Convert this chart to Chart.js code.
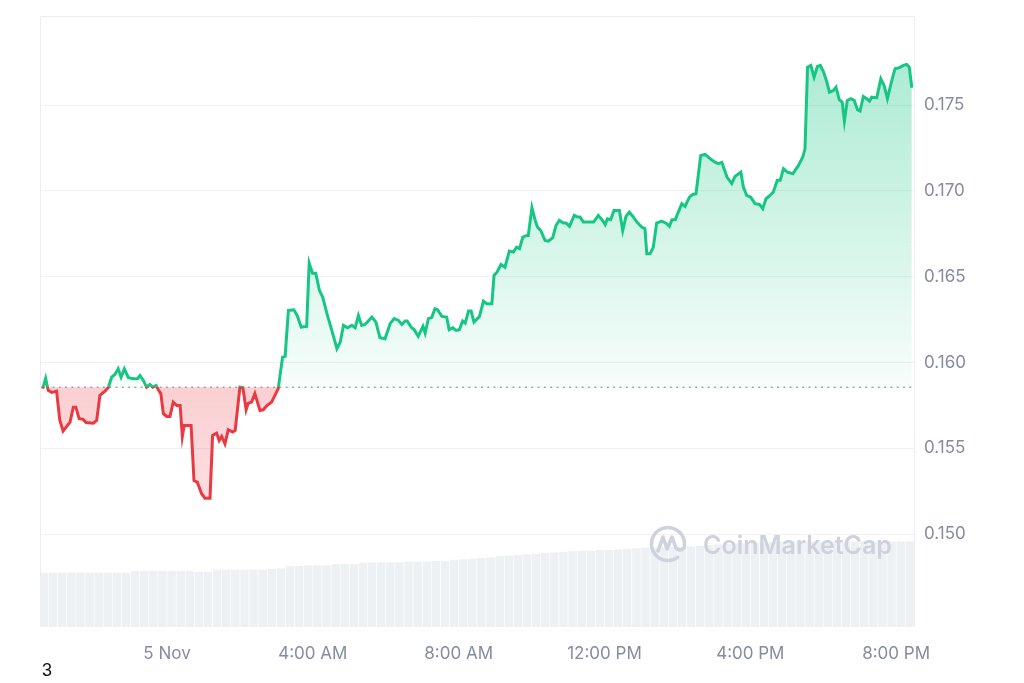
<!DOCTYPE html>
<html>
<head>
<meta charset="utf-8">
<script src="https://cdn.jsdelivr.net/npm/chart.js@4.4.1/dist/chart.umd.min.js"></script>
<style>
  html, body { margin: 0; padding: 0; background: #ffffff; }
  #wrap { position: relative; width: 1024px; height: 683px; }
  #note { position: absolute; left: 42px; top: 660px; font: 18px "Liberation Sans", Arial, sans-serif; color: #111; }
</style>
</head>
<body>
<div id="wrap">
  <canvas id="priceChart" width="1024" height="683"></canvas>
  <div id="note">3</div>
</div>
<script>
// hours relative to 5 Nov 00:00
const priceTimes = [
  -3.41,-3.33,-3.26,-3.16,-3.03,-2.94,-2.85,-2.66,-2.57,-2.50,
  -2.41,-2.30,-2.22,-2.02,-1.93,-1.84,-1.70,-1.61,-1.52,-1.43,
  -1.34,-1.26,-1.17,-1.06,-0.92,-0.81,-0.74,-0.65,-0.56,-0.47,
  -0.39,-0.30,-0.24,-0.17,-0.10,-0.01,0.08,0.17,0.27,0.36,
  0.42,0.47,0.66,0.74,0.83,0.95,1.04,1.18,1.25,1.36,
  1.43,1.50,1.59,1.68,1.80,1.87,2.00,2.08,2.17,2.23,
  2.32,2.41,2.55,2.64,2.74,2.87,3.05,3.17,3.24,3.33,
  3.48,3.57,3.68,3.83,3.90,3.99,4.08,4.18,4.27,4.40,
  4.52,4.66,4.75,4.84,4.95,5.07,5.16,5.25,5.34,5.43,
  5.62,5.73,5.84,5.98,6.12,6.23,6.35,6.44,6.53,6.59,
  6.71,6.78,6.89,7.02,7.08,7.17,7.26,7.35,7.42,7.54,
  7.67,7.74,7.84,7.93,8.02,8.11,8.18,8.27,8.34,8.42,
  8.57,8.68,8.77,8.91,8.97,9.05,9.16,9.27,9.39,9.50,
  9.59,9.67,9.76,9.87,9.91,10.01,10.10,10.16,10.25,10.37,
  10.46,10.58,10.67,10.76,10.87,10.95,11.04,11.17,11.26,11.33,
  11.42,11.70,11.83,11.93,12.02,12.08,12.17,12.26,12.41,12.50,
  12.59,12.68,12.78,12.89,13.02,13.11,13.16,13.25,13.34,13.43,
  13.57,13.71,13.78,13.85,13.94,14.12,14.21,14.33,14.42,14.51,
  14.64,14.76,14.90,15.03,15.12,15.22,15.36,15.49,15.58,15.74,
  15.81,15.90,16.01,16.13,16.25,16.34,16.43,16.54,16.63,16.74,
  16.82,16.91,17.02,17.17,17.32,17.44,17.50,17.57,17.66,17.75,
  17.84,17.92,18.01,18.10,18.17,18.28,18.35,18.44,18.52,18.58,
  18.66,18.76,18.85,18.94,19.01,19.10,19.19,19.27,19.33,19.47,
  19.58,19.67,19.76,19.88,19.97,20.09,20.20,20.29,20.36,20.43
];
const priceValues = [
  0.15847,0.15907,0.15837,0.15825,0.15833,0.15662,0.15600,0.15652,0.15739,0.15739,
  0.15672,0.15668,0.15650,0.15646,0.15662,0.15808,0.15833,0.15854,0.15914,0.15930,
  0.15963,0.15914,0.15963,0.15911,0.15905,0.15905,0.15924,0.15895,0.15856,0.15872,
  0.15856,0.15866,0.15841,0.15818,0.15701,0.15685,0.15685,0.15769,0.15749,0.15749,
  0.15569,0.15633,0.15633,0.15312,0.15302,0.15235,0.15209,0.15209,0.15575,0.15588,
  0.15545,0.15569,0.15526,0.15608,0.15594,0.15604,0.15856,0.15853,0.15724,0.15763,
  0.15769,0.15818,0.15720,0.15724,0.15749,0.15769,0.15847,0.16031,0.16035,0.16303,
  0.16307,0.16274,0.16206,0.16210,0.16579,0.16520,0.16520,0.16420,0.16381,0.16274,
  0.16187,0.16080,0.16118,0.16216,0.16202,0.16216,0.16202,0.16274,0.16216,0.16221,
  0.16264,0.16235,0.16144,0.16138,0.16226,0.16255,0.16245,0.16221,0.16241,0.16241,
  0.16202,0.16191,0.16152,0.16210,0.16171,0.16255,0.16261,0.16313,0.16307,0.16268,
  0.16264,0.16191,0.16202,0.16187,0.16191,0.16241,0.16229,0.16299,0.16299,0.16235,
  0.16268,0.16357,0.16342,0.16342,0.16507,0.16526,0.16571,0.16555,0.16649,0.16643,
  0.16672,0.16663,0.16730,0.16740,0.16740,0.16902,0.16828,0.16789,0.16769,0.16711,
  0.16707,0.16727,0.16798,0.16828,0.16812,0.16812,0.16793,0.16857,0.16847,0.16847,
  0.16818,0.16818,0.16857,0.16832,0.16804,0.16837,0.16832,0.16886,0.16886,0.16769,
  0.16851,0.16876,0.16851,0.16818,0.16789,0.16779,0.16634,0.16634,0.16672,0.16812,
  0.16823,0.16808,0.16793,0.16832,0.16832,0.16925,0.16909,0.16963,0.16979,0.16983,
  0.17206,0.17212,0.17187,0.17167,0.17158,0.17166,0.17080,0.17042,0.17084,0.17109,
  0.17022,0.16973,0.16963,0.16925,0.16921,0.16896,0.16954,0.16973,0.16993,0.17061,
  0.17061,0.17129,0.17109,0.17100,0.17148,0.17197,0.17245,0.17721,0.17731,0.17663,
  0.17725,0.17731,0.17692,0.17634,0.17575,0.17585,0.17604,0.17531,0.17517,0.17406,
  0.17527,0.17537,0.17527,0.17473,0.17465,0.17550,0.17537,0.17523,0.17546,0.17543,
  0.17653,0.17614,0.17537,0.17643,0.17712,0.17718,0.17731,0.17737,0.17721,0.17601
];
const openPrice = 0.15855;

// volume bars every 15 minutes, first bar at 20:37 on 4 Nov
const volumeStart = -3.375;
const volumeStep = 0.25;
const volumeValues = [
  8.9,8.9,8.9,8.9,8.9,8.9,8.9,8.9,8.9,8.9,
  9.2,9.2,9.2,9.2,9.2,9.2,9.2,9.05,9.05,
  9.4,9.4,9.4,9.4,9.4,9.4,9.5,9.6,
  10.0,10.0,10.1,10.1,10.1,10.3,10.3,10.3,10.5,
  10.6,10.6,10.6,10.6,10.7,10.7,10.7,10.8,10.8,
  11.0,11.1,11.2,11.3,11.4,11.6,11.7,11.8,11.9,12.0,
  12.1,12.2,12.3,12.4,12.5,12.5,12.6,12.6,12.7,12.8,
  12.9,13.0,13.0,13.1,13.1,13.1,13.2,13.3,13.4,13.5,
  13.6,13.7,13.7,13.8,13.8,13.9,
  14.0,14.0,14.0,14.0,14.0,14.0,14.0,14.0,14.0,14.0,14.0,14.0,14.0,14.0,14.0
];

const timeRange = [-3.484, 20.49];
const timeTickValues = [0, 4, 8, 12, 16, 20];
const timeTickLabels = ['5 Nov', '4:00 AM', '8:00 AM', '12:00 PM', '4:00 PM', '8:00 PM'];
const priceRange = [0.14458, 0.18019];
const priceTickValues = [0.150, 0.155, 0.160, 0.165, 0.170, 0.175];

const green = '#16c784';
const red = '#ea3943';
const labelColor = '#858ca2';

function baseFraction(chart) {
  const area = chart.chartArea;
  const yb = chart.scales.y.getPixelForValue(openPrice);
  return Math.min(1, Math.max(0, (yb - area.top) / (area.bottom - area.top)));
}

function lineColor(context) {
  const chart = context.chart;
  const area = chart.chartArea;
  if (!area) return green;
  const f = baseFraction(chart);
  const g = chart.ctx.createLinearGradient(0, area.top, 0, area.bottom);
  g.addColorStop(0, green);
  g.addColorStop(f, green);
  g.addColorStop(f, red);
  g.addColorStop(1, red);
  return g;
}

function areaColor(context) {
  const chart = context.chart;
  const area = chart.chartArea;
  if (!area) return 'rgba(22,199,132,0.2)';
  const f = baseFraction(chart);
  const g = chart.ctx.createLinearGradient(0, area.top, 0, area.bottom);
  g.addColorStop(0, 'rgba(22,199,132,0.40)');
  g.addColorStop(f, 'rgba(22,199,132,0.03)');
  g.addColorStop(f, 'rgba(234,57,67,0.24)');
  g.addColorStop(1, 'rgba(234,57,67,0.08)');
  return g;
}

const pricePoints = priceTimes.map((t, i) => ({ x: t, y: priceValues[i] }));
const volumePoints = volumeValues.map((v, i) => ({ x: volumeStart + i * volumeStep, y: v }));

const frame = {
  id: 'frame',
  afterDraw(chart) {
    const { ctx, chartArea } = chart;
    ctx.save();
    ctx.strokeStyle = '#eceef2';
    ctx.lineWidth = 1;
    ctx.beginPath();
    ctx.moveTo(chartArea.left + 0.5, chartArea.bottom);
    ctx.lineTo(chartArea.left + 0.5, chartArea.top + 0.5);
    ctx.lineTo(chartArea.right + 0.5, chartArea.top + 0.5);
    ctx.lineTo(chartArea.right + 0.5, chartArea.bottom);
    ctx.stroke();
    ctx.restore();
  }
};

const watermark = {
  id: 'watermark',
  afterDatasetsDraw(chart) {
    const { ctx, chartArea } = chart;
    const cx = chartArea.right - 246;
    const cy = chartArea.bottom - 83;
    ctx.save();
    ctx.strokeStyle = '#cdd2dc';
    ctx.fillStyle = '#cdd2dc';
    ctx.lineWidth = 3.5;
    ctx.lineCap = 'round';
    ctx.lineJoin = 'round';
    ctx.beginPath();
    ctx.arc(cx, cy, 16.5, 0.3 * Math.PI, 2.05 * Math.PI);
    ctx.stroke();
    ctx.beginPath();
    ctx.moveTo(cx - 10, cy + 7);
    ctx.lineTo(cx - 5, cy - 7);
    ctx.lineTo(cx - 1, cy + 5);
    ctx.lineTo(cx + 4, cy - 7);
    ctx.lineTo(cx + 8, cy + 4);
    ctx.quadraticCurveTo(cx + 12, cy + 8, cx + 16, cy + 4);
    ctx.stroke();
    ctx.font = '600 25px Inter, "Noto Sans", sans-serif';
    ctx.textBaseline = 'middle';
    ctx.fillText('CoinMarketCap', cx + 35, cy + 2);
    ctx.restore();
  }
};

new Chart(document.getElementById('priceChart'), {
  type: 'line',
  data: {
    datasets: [
      {
        label: 'Price',
        data: pricePoints,
        yAxisID: 'y',
        borderColor: lineColor,
        backgroundColor: areaColor,
        borderWidth: 3,
        pointRadius: 0,
        tension: 0,
        fill: { target: { value: openPrice } },
        order: 1
      },
      {
        label: 'Open',
        data: [{ x: timeRange[0], y: openPrice }, { x: timeRange[1], y: openPrice }],
        yAxisID: 'y',
        borderColor: '#9ea4b3',
        borderWidth: 1.5,
        borderDash: [1.8, 4.5],
        pointRadius: 0,
        fill: false,
        order: 2
      },
      {
        type: 'bar',
        label: 'Volume',
        data: volumePoints,
        yAxisID: 'yv',
        backgroundColor: '#eef1f4',
        categoryPercentage: 1,
        barPercentage: 0.93,
        order: 3
      }
    ]
  },
  options: {
    responsive: false,
    animation: false,
    layout: { padding: { left: 40, top: 16, right: 0, bottom: 0 } },
    plugins: { legend: { display: false }, tooltip: { enabled: false } },
    scales: {
      x: {
        type: 'linear',
        min: timeRange[0],
        max: timeRange[1],
        offset: false,
        grid: { display: false, offset: false, drawTicks: false },
        border: { display: false },
        afterBuildTicks: axis => { axis.ticks = timeTickValues.map(v => ({ value: v })); },
        afterFit: axis => { axis.height = 56; axis.paddingLeft = 0; axis.paddingRight = 0; },
        ticks: {
          padding: 17,
          color: labelColor,
          font: { family: 'Inter', size: 17 },
          maxRotation: 0,
          autoSkip: false,
          callback: v => timeTickLabels[timeTickValues.indexOf(v)]
        }
      },
      y: {
        position: 'right',
        min: priceRange[0],
        max: priceRange[1],
        grid: { color: '#eff1f4', lineWidth: 1, drawTicks: false },
        border: { display: false },
        afterBuildTicks: axis => { axis.ticks = priceTickValues.map(v => ({ value: v })); },
        afterFit: axis => { axis.width = 110; axis.paddingTop = 0; axis.paddingBottom = 0; },
        ticks: {
          padding: 10,
          color: labelColor,
          font: { family: 'Inter', size: 17 },
          callback: v => v.toFixed(3)
        }
      },
      yv: {
        display: false,
        min: 0,
        max: 100
      }
    }
  },
  plugins: [frame, watermark]
});
</script>
</body>
</html>
